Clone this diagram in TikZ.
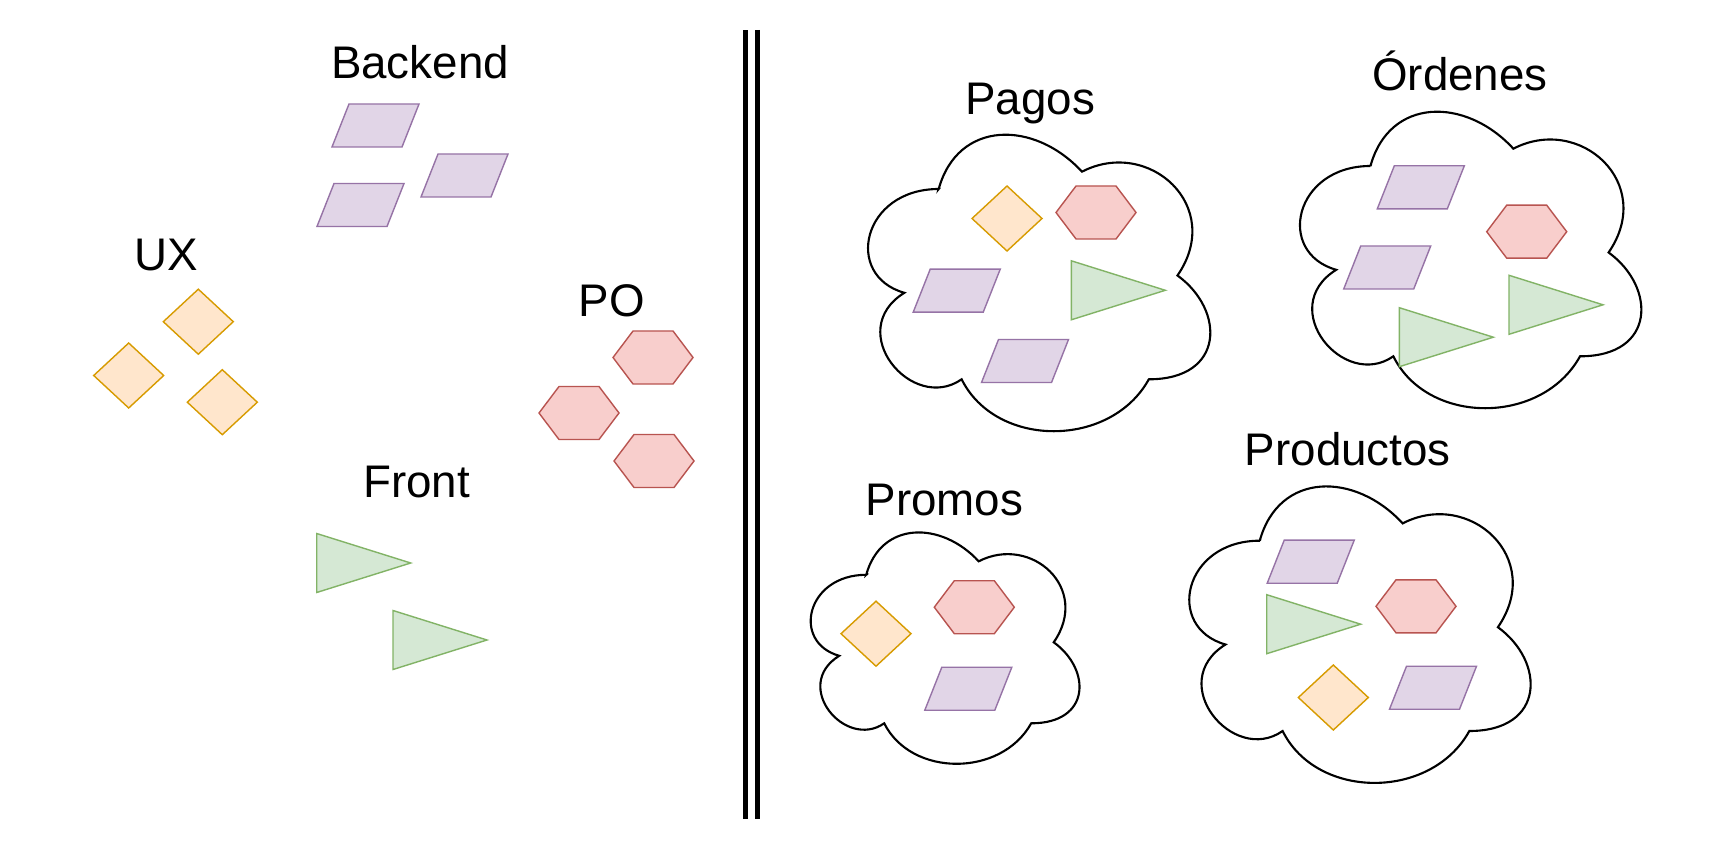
\documentclass[tikz,border=0pt]{standalone}
\usepackage{fontspec}
\setmainfont{Liberation Sans}
\usetikzlibrary{positioning}

\definecolor{uxfill}{HTML}{FFE6CC}
\definecolor{uxline}{HTML}{D79B00}
\definecolor{pofill}{HTML}{F8CECC}
\definecolor{poline}{HTML}{B85450}
\definecolor{befill}{HTML}{E1D5E7}
\definecolor{beline}{HTML}{9673A6}
\definecolor{fefill}{HTML}{D5E8D4}
\definecolor{feline}{HTML}{82B366}

\tikzset{
  grouplabel/.style={font=\fontsize{13pt}{15pt}\selectfont, inner sep=0pt, anchor=base},
  piece/.style={line width=0.4pt},
  divider/.style={line width=0.045cm, double distance=0.077cm},
  pics/backend/.style={code={
      \draw[piece, draw=beline, fill=befill]
        (-26.5,-21.5) -- (43.5,-21.5) -- (26.5,21.5) -- (-43.5,21.5) -- cycle;}},
  pics/ux/.style={code={
      \draw[piece, draw=uxline, fill=uxfill]
        (-35,0) -- (0,-32.5) -- (35,0) -- (0,32.5) -- cycle;}},
  pics/po/.style={code={
      \draw[piece, draw=poline, fill=pofill]
        (-40,0) -- (-20,-26.5) -- (20,-26.5) -- (40,0) -- (20,26.5) -- (-20,26.5) -- cycle;}},
  pics/front/.style={code={
      \draw[piece, draw=feline, fill=fefill]
        (-47,-29.5) -- (47,0) -- (-47,29.5) -- cycle;}},
  pics/context/.style={code={
      \draw[line width=0.6pt, fill=white]
        (25,25) .. controls (5,25) and (0,50) .. (16,55)
        .. controls (0,66) and (18,90) .. (31,80)
        .. controls (40,100) and (70,100) .. (80,80)
        .. controls (100,80) and (100,60) .. (87.5,50)
        .. controls (100,30) and (80,10) .. (62.5,20)
        .. controls (50,5) and (30,5) .. cycle;}}
}

\begin{document}
\begin{tikzpicture}[x=0.01cm, y=-0.01cm]
  \useasboundingbox (0,0) rectangle (1728,846);

  % teams
  \node[grouplabel] (backendlbl) at (420,79) {Backend};
  \pic at (375.5,125.5) {backend};
  \pic at (464.5,175.5) {backend};
  \pic at (360.5,205) {backend};

  \node[grouplabel] (uxlbl) at (166.5,271) {UX};
  \pic at (198.3,321.7) {ux};
  \pic at (128.7,375.5) {ux};
  \pic at (222.3,402.2) {ux};

  \node[grouplabel] (polbl) at (612,317) {PO};
  \pic at (653,357.5) {po};
  \pic at (579,413) {po};
  \pic at (654,461) {po};

  \node[grouplabel] (frontlbl) at (416.5,497) {Front};
  \pic at (363.7,563) {front};
  \pic at (440,640) {front};

  \coordinate (divtop) at (751.6,30);
  \coordinate (divbot) at (751.6,819);
  \draw[divider] (divtop) -- (divbot);

  % contexts
  \node[grouplabel] (pagoslbl) at (1030.3,115) {Pagos};
  \pic[xscale=3.82, yscale=3.46] at (843.2,102.5) {context};
  \pic at (1007,218.5) {ux};
  \pic at (1096,212.5) {po};
  \pic at (956.7,290.7) {backend};
  \pic at (1118.3,290.3) {front};
  \pic at (1025,361) {backend};

  \node[grouplabel] (ordeneslbl) at (1460,90.7) {Órdenes};
  \pic[xscale=3.81, yscale=3.46] at (1275.2,79.5) {context};
  \pic at (1420.8,187.3) {backend};
  \pic at (1526.7,231.7) {po};
  \pic at (1387.2,267.5) {backend};
  \pic at (1556,304.8) {front};
  \pic at (1446.3,337.2) {front};

  \node[grouplabel] (promoslbl) at (944.5,515) {Promos};
  \pic[xscale=3.0, yscale=2.7] at (791.2,507.3) {context};
  \pic at (876,633.7) {ux};
  \pic at (974.3,607.2) {po};
  \pic at (968.3,688.7) {backend};

  \node[grouplabel] (productoslbl) at (1347.8,465) {Productos};
  \pic[xscale=3.81, yscale=3.46] at (1164.5,454.2) {context};
  \pic at (1310.7,561.7) {backend};
  \pic at (1313.7,624.2) {front};
  \pic at (1416,606.3) {po};
  \pic at (1333.3,697.5) {ux};
  \pic at (1433,687.7) {backend};
\end{tikzpicture}
\end{document}
